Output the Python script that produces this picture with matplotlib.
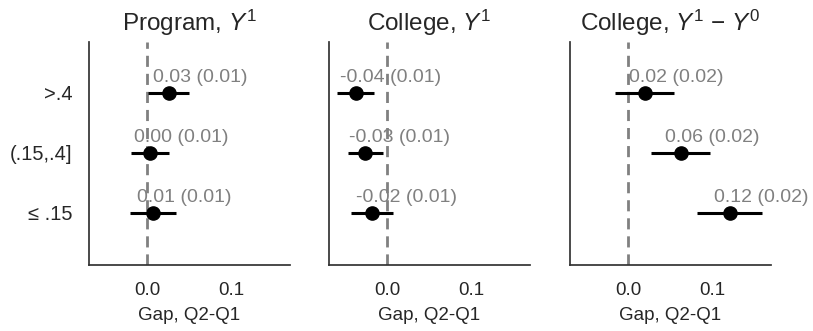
import numpy as np
import matplotlib
matplotlib.use("Agg")
import matplotlib.pyplot as plt
import seaborn as sns

sns.set_style("white")
plt.rcParams['font.family'] = ['Liberation Sans', 'DejaVu Sans']
plt.rcParams['mathtext.fontset'] = 'custom'
plt.rcParams['mathtext.rm'] = 'Liberation Sans'
plt.rcParams['mathtext.it'] = 'Liberation Sans:italic'

# quality bins, top to bottom
groups = ['>.4', '(.15,.4]', '≤ .15']
titles = ['Program, $Y^1$', 'College, $Y^1$', 'College, $Y^1$ \u2212 $Y^0$']

# gap estimates and standard errors per panel
prog_est = [0.026, 0.004, 0.007]
prog_se = [0.0125, 0.0115, 0.0138]
coll_est = [-0.037, -0.026, -0.018]
coll_se = [0.0112, 0.0107, 0.0128]
diff_est = [0.020, 0.063, 0.121]
diff_se = [0.018, 0.018, 0.020]

panels = [(prog_est, prog_se), (coll_est, coll_se), (diff_est, diff_se)]

fig = plt.figure(figsize=(8.13, 3.31), dpi=100)
lefts = [0.1095, 0.4047, 0.701]
ypos = np.arange(len(groups))

for i, (est, se) in enumerate(panels):
    ax = fig.add_axes([lefts[i], 0.1994, 0.247, 0.6737])
    est = np.array(est)
    se = np.array(se)
    ax.axvline(0, color='gray', ls='--', lw=2, dashes=(4, 2.5), zorder=1)
    ax.errorbar(est, ypos, xerr=1.96 * se, fmt='o', color='black',
                ms=9.5, lw=2.2, capsize=0, zorder=3)
    for e, s, y in zip(est, se, ypos):
        ax.text(e - 0.019, y - 0.12, f"{e:.2f} ({s:.2f})", color='gray',
                fontsize=14, ha='left', va='bottom', zorder=4)
    ax.set_xlim(-0.069, 0.17)
    ax.set_ylim(2.87, -0.85)
    ax.set_xticks([0.0, 0.1])
    ax.set_xticklabels(['0.0', '0.1'], fontsize=13.5, color='#262626')
    ax.set_yticks(ypos)
    if i == 0:
        ax.set_yticklabels(groups, fontsize=14.5, color='#262626')
    else:
        ax.set_yticklabels([])
    ax.tick_params(axis='x', length=0, pad=12)
    ax.tick_params(axis='y', length=0, pad=12)
    ax.set_xlabel('Gap, Q2-Q1', fontsize=13.5, color='#262626', labelpad=6)
    ax.set_title(titles[i], fontsize=17.5, color='#262626', pad=8)
    for side in ['top', 'right']:
        ax.spines[side].set_visible(False)
    for side in ['left', 'bottom']:
        ax.spines[side].set_color('#333333')
        ax.spines[side].set_linewidth(1.25)

fig.savefig('out.png', dpi=100)
